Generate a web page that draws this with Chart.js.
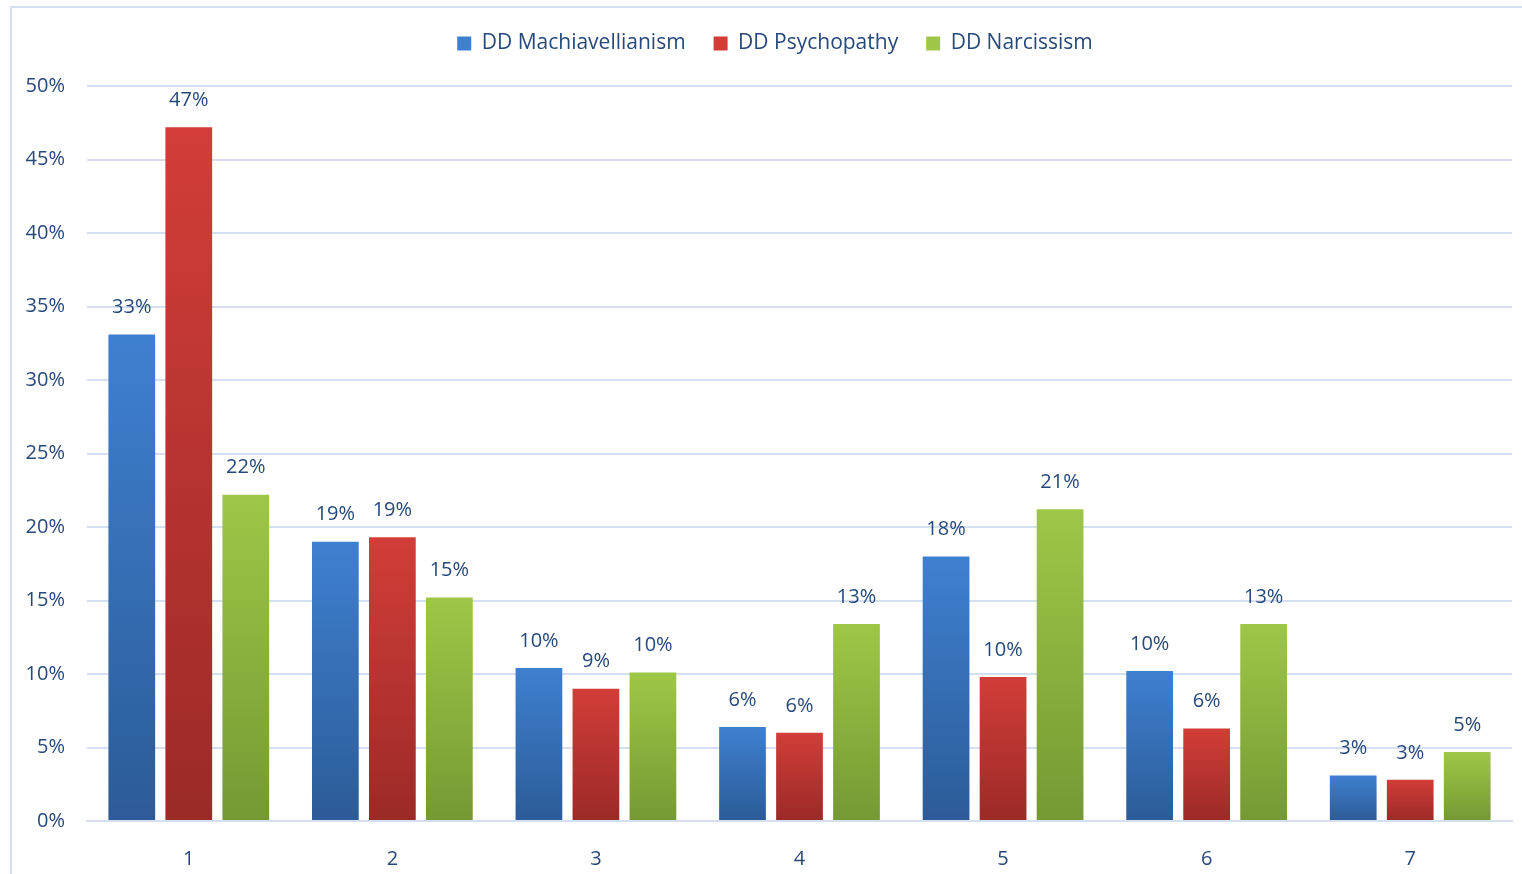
<!DOCTYPE html>
<html>
<head>
<meta charset="utf-8">
<script src="https://cdn.jsdelivr.net/npm/chart.js@4"></script>
<style>
  html, body { margin: 0; padding: 0; background: #fff; }
  #wrap { width: 1522px; height: 874px; position: relative; }
</style>
</head>
<body>
<div id="wrap"><canvas id="chart" width="1522" height="874"></canvas></div>
<script>
// Chart values (percent)
const categories = ['1', '2', '3', '4', '5', '6', '7'];
const machiavellianism = [33.1, 19.0, 10.4, 6.4, 18.0, 10.2, 3.1];
const psychopathy = [47.2, 19.3, 9.0, 6.0, 9.8, 6.3, 2.8];
const narcissism = [22.2, 15.2, 10.1, 13.4, 21.2, 13.4, 4.7];
const seriesNames = ['DD Machiavellianism', 'DD Psychopathy', 'DD Narcissism'];

const textColor = '#27497A';
const fontFamily = "'Open Sans', sans-serif";

// top / bottom colours for each series gradient
const palette = [
    ['#3E80D0', '#2C5B97'],
    ['#D23D38', '#9B2A27'],
    ['#9EC747', '#759933']
];

function barGradient(idx) {
    return function(context) {
        const chart = context.chart;
        const area = chart.chartArea;
        if (!area || context.parsed == null) return palette[idx][0];
        const top = chart.scales.y.getPixelForValue(context.parsed.y);
        const g = chart.ctx.createLinearGradient(0, top, 0, area.bottom);
        g.addColorStop(0, palette[idx][0]);
        g.addColorStop(1, palette[idx][1]);
        return g;
    };
}

// outer frame + extra room under the legend
const framePlugin = {
    id: 'frame',
    beforeInit(chart) {
        const fit = chart.legend.fit;
        chart.legend.fit = function() {
            fit.call(this);
            this.height += 22;
        };
    },
    afterLayout(chart) {
        // legend sits a little right of centre in the original
        chart.legend.left += 19;
        chart.legend.right += 19;
    },
    beforeDraw(chart) {
        const ctx = chart.ctx;
        ctx.save();
        ctx.strokeStyle = '#D4E0F2';
        ctx.lineWidth = 2;
        ctx.strokeRect(11, 7, 1600, 1000);
        ctx.restore();
    }
};

// value labels above the bars
const valueLabels = {
    id: 'valueLabels',
    afterDatasetsDraw(chart) {
        const ctx = chart.ctx;
        ctx.save();
        ctx.fillStyle = textColor;
        ctx.font = '20px ' + fontFamily;
        ctx.textAlign = 'center';
        ctx.textBaseline = 'middle';
        chart.data.datasets.forEach((ds, i) => {
            chart.getDatasetMeta(i).data.forEach((bar, j) => {
                ctx.fillText(Math.round(ds.data[j]) + '%', bar.x, bar.y - 27);
            });
        });
        ctx.restore();
    }
};

const ctx = document.getElementById('chart').getContext('2d');
new Chart(ctx, {
    type: 'bar',
    data: {
        labels: categories,
        datasets: [machiavellianism, psychopathy, narcissism].map((vals, i) => ({
            label: seriesNames[i],
            data: vals,
            backgroundColor: barGradient(i),
            categoryPercentage: 0.84,
            barPercentage: 0.82
        }))
    },
    options: {
        responsive: false,
        animation: false,
        layout: { padding: { top: 5, right: 10, left: 0, bottom: 0 } },
        plugins: {
            legend: {
                position: 'top',
                labels: {
                    color: textColor,
                    font: { family: fontFamily, size: 21 },
                    boxWidth: 14,
                    boxHeight: 14,
                    padding: 28,
                    generateLabels(chart) {
                        return seriesNames.map((name, i) => ({
                            text: name,
                            fillStyle: palette[i][0],
                            strokeStyle: palette[i][0],
                            lineWidth: 0,
                            fontColor: textColor,
                            datasetIndex: i
                        }));
                    }
                }
            },
            tooltip: { enabled: false }
        },
        scales: {
            x: {
                grid: { display: false, drawTicks: false },
                border: { color: '#D4E0F2', width: 2 },
                ticks: {
                    color: textColor,
                    font: { family: fontFamily, size: 20 },
                    padding: 26
                },
                afterFit(scale) { scale.height = 53; }
            },
            y: {
                min: 0,
                max: 50,
                ticks: {
                    stepSize: 5,
                    color: textColor,
                    font: { family: fontFamily, size: 20 },
                    padding: 22,
                    callback: v => v + '%'
                },
                grid: { color: '#D4E0F2', lineWidth: 2, drawTicks: false },
                border: { display: false },
                afterFit(scale) { scale.width = 87; }
            }
        }
    },
    plugins: [framePlugin, valueLabels]
});
</script>
</body>
</html>
